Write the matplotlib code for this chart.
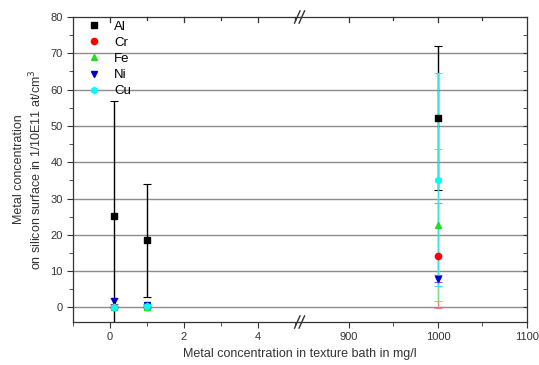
import numpy as np
import matplotlib.pyplot as plt
import matplotlib.transforms as mtransforms
from matplotlib.lines import Line2D

plt.rcParams['font.family'] = ['Liberation Sans', 'DejaVu Sans']

# bath concentration (mg/l) and surface concentration per metal
x = [0.1, 1, 1000]
al = [25.3, 18.5, 52.2]
al_err = [31.5, 15.6, 19.8]
cr = [0.2, 0.2, 14.3]
cr_err = [0.3, 0.3, 14.4]
fe = [0.1, 0.2, 22.8]
fe_err = [0.2, 0.2, 20.9]
ni = [1.8, 0.6, 7.9]
ni_err = [0.8, 0.4, 1.0]
cu = [0.1, 0.3, 35.2]
cu_err = [0.3, 0.3, 29.3]

series = [
    ('Al', al, al_err, 's', 'black', 'black'),
    ('Cr', cr, cr_err, 'o', 'red', '#f08080'),
    ('Fe', fe, fe_err, '^', '#22dd22', '#88dd88'),
    ('Ni', ni, ni_err, 'v', '#0000cc', '#6666dd'),
    ('Cu', cu, cu_err, 'h', 'cyan', '#44e0e0'),
]

fig = plt.figure(figsize=(5.39, 3.65), dpi=100)
axl = fig.add_axes([73/539, 43/365, 227/539, 305/365])
axr = fig.add_axes([300/539, 43/365, 227/539, 305/365], sharey=axl)

for ax in (axl, axr):
    for yv in range(0, 80, 10):
        ax.axhline(yv, color='#8c8c8c', lw=1.0, zorder=0)
    for name, y, e, m, c, ec in series:
        ax.errorbar(x, y, yerr=e, fmt=m, color=c, ecolor=ec,
                    elinewidth=1.0, capsize=3, capthick=0.8, markersize=4.5,
                    zorder=3)

axl.set_xlim(-1, 5.14)
axr.set_xlim(845, 1100)
axl.set_ylim(-4, 80)

axl.set_xticks([0, 2, 4])
axl.set_xticks([-1, 1, 3, 5], minor=True)
axr.set_xticks([900, 1000, 1100])
axr.set_xticks([950, 1050], minor=True)
axl.set_yticks(range(0, 81, 10))
axl.set_yticks(range(5, 80, 10), minor=True)

axl.spines['right'].set_visible(False)
axr.spines['left'].set_visible(False)
for ax in (axl, axr):
    for s in ax.spines.values():
        s.set_color('#333333')
        s.set_linewidth(0.9)
    ax.tick_params(axis='x', which='both', direction='out', labelsize=8,
                   colors='#333333', length=3)
    ax.tick_params(axis='x', which='major', length=4)
    ax.tick_params(axis='y', which='both', direction='out', labelsize=8,
                   colors='#333333', length=3)
    # inward ticks along the top edge (x in data, y in axes fraction)
    trans = mtransforms.blended_transform_factory(ax.transData, ax.transAxes)
    lo, hi = ax.get_xlim()
    for ticks, ln in ((ax.get_xticks(), 0.016), (ax.get_xticks(minor=True), 0.010)):
        for t in ticks:
            if lo < t < hi:
                ax.plot([t, t], [1, 1 - ln], transform=trans, color='#333333',
                        lw=0.9, clip_on=False, zorder=4)
axl.tick_params(axis='y', which='major', length=4)
axr.tick_params(axis='y', which='both', left=False, labelleft=False,
                right=True, direction='in')

# break marks on bottom and top spines
d = 0.012
for yy in (0, 1):
    for off in (-0.012, 0.008):
        axr.plot([off - d, off + d], [yy - 0.02, yy + 0.02], transform=axr.transAxes,
                 color='#333333', lw=1.0, clip_on=False)

axl.set_xlabel('Metal concentration in texture bath in mg/l', fontsize=9,
               color='#333333', x=1.0)
axl.set_ylabel('Metal concentration\non silicon surface in 1/10E11 at/cm$^3$',
               fontsize=9, color='#333333')

handles = [Line2D([], [], marker=m, color=c, linestyle='none', markersize=4.5)
           for name, y, e, m, c, ec in series]
labels = [s[0] for s in series]
axl.legend(handles, labels, loc='upper left', frameon=False, fontsize=9.5,
           handletextpad=0.5, labelspacing=0.3, borderaxespad=0.2,
           bbox_to_anchor=(0.0, 1.015))

fig.savefig('out.png', dpi=100)
